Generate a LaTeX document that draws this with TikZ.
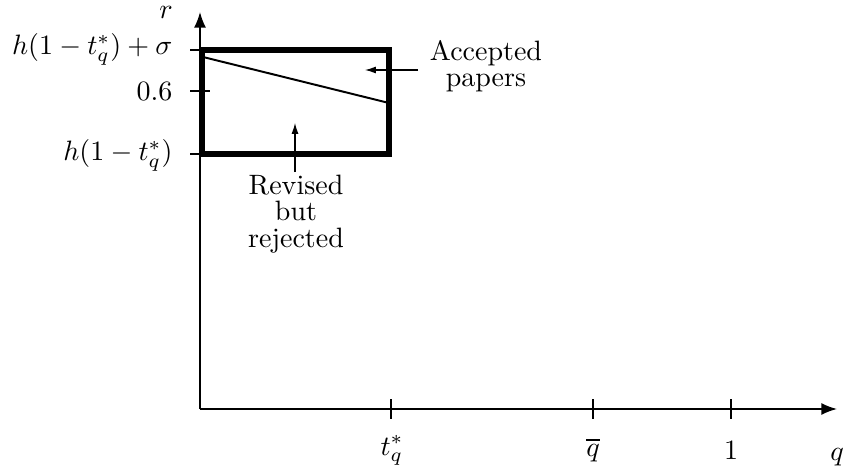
\documentclass[tikz,border=0pt]{standalone}
\usetikzlibrary{arrows.meta}
\begin{document}
\begin{tikzpicture}[x=0.357pt,y=-0.357pt,
  axis/.style={line width=0.6pt,-{Latex[length=5.6pt,width=4.3pt]}},
  tickmark/.style={line width=0.6pt},
  region/.style={line width=2pt},
  curve/.style={line width=0.7pt},
  note/.style={line width=0.4pt,-{Latex[length=3.9pt,width=2.5pt]}},
  lbl/.style={inner sep=0pt},
  multi/.style={inner sep=0pt,align=center,font=\fontsize{10pt}{9.4pt}\selectfont}]
\useasboundingbox (0,0) rectangle (843,470);
% axes
\coordinate (O) at (200,409);
\coordinate (xend) at (837,409);
\coordinate (yend) at (200,12);
\draw[axis] (O) -- (xend);
\draw[axis] (O) -- (yend);
% x ticks
\draw[tickmark] (391,399) -- (391,419);
\draw[tickmark] (593,399) -- (593,419);
\draw[tickmark] (731,399) -- (731,419);
% y ticks
\draw[tickmark] (190,50) -- (210,50);
\draw[tickmark] (190,91) -- (210,91);
\draw[tickmark] (190,154) -- (210,154);
% region and line
\draw[region] (202,50) rectangle (389,154);
\coordinate (l1) at (203,57);
\coordinate (l2) at (389,103);
\draw[curve] (l1) -- (l2);
% axis labels
\node[lbl,anchor=base] (rlab) at (166,19) {$r$};
\node[lbl,anchor=base] (qlab) at (837,460) {$q$};
\node[lbl,anchor=base] (tq) at (392,455) {$t_q^*$};
\node[lbl,anchor=base] (qbar) at (593,456) {$\overline{q}$};
\node[lbl,anchor=base] (one) at (731,459) {$1$};
\node[lbl,anchor=base east] (ytop) at (173,55) {$h(1-t_q^*)+\sigma$};
\node[lbl,anchor=base east] (ymid) at (173,101) {$0.6$};
\node[lbl,anchor=base east] (ybot) at (173,160.5) {$h(1-t_q^*)$};
% annotations
\node[multi,anchor=north] (acc) at (486,39.6) {Accepted\\papers};
\node[multi,anchor=north] (rev) at (296,174.6) {Revised\\but\\rejected};
\coordinate (accs) at (418,70);
\coordinate (acct) at (365,70);
\coordinate (revs) at (295,172);
\coordinate (revt) at (295,123);
\draw[note] (accs) -- (acct);
\draw[note] (revs) -- (revt);
\end{tikzpicture}
\end{document}
